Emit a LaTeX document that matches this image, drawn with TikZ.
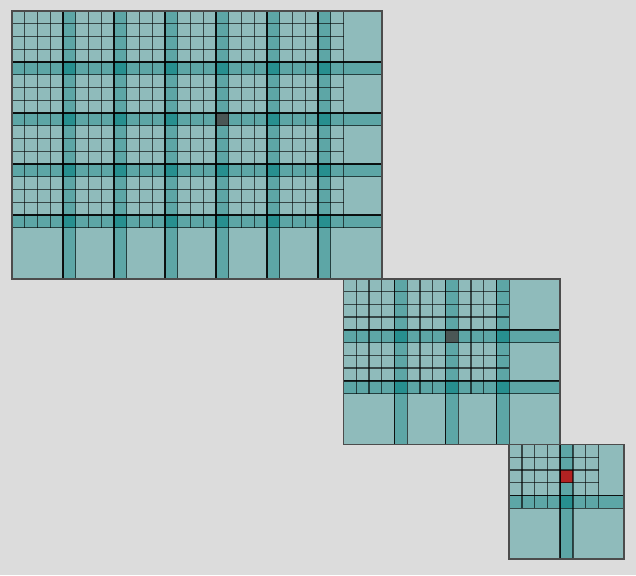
\documentclass[tikz,border=0pt]{standalone}
\usepackage{xcolor}

\definecolor{bggray}{RGB}{220,220,220}
\definecolor{markgray}{RGB}{74,86,85}
\definecolor{markred}{RGB}{178,34,34}

\tikzset{
  tilefill/.style={fill=teal, fill opacity=0.35},
  cellline/.style={draw=black, draw opacity=0.62, line width=1.25pt},
  tileline/.style={draw=black, draw opacity=0.75, line width=1.4pt},
  frameline/.style={draw=black!70, line width=1.5pt},
}

% one level: offset #1,#2; #3 x #4 cells; fine part #5 x #6; marked cell #7,#8 in colour #9
\newcommand{\gridlevel}[9]{%
  \begin{scope}[shift={(#1,#2)}]
    \pgfmathtruncatemacro{\lastcol}{#3-5}
    \pgfmathtruncatemacro{\lastrow}{#4-5}
    \pgfmathtruncatemacro{\ncols}{(#3-5)/4}
    \pgfmathtruncatemacro{\nrows}{(#4-5)/4}
    % overlapping tiles
    \foreach \i in {0,4,...,\lastcol}
      \foreach \j in {0,4,...,\lastrow}
        \fill[tilefill] (\i,\j) rectangle ++(5,5);
    % marked cell
    \fill[#9] (#7,#8) rectangle ++(1,1);
    % fine cells
    \foreach \x in {0,...,#5}
      \draw[cellline] (\x,0) -- (\x,#6);
    \foreach \y in {0,...,#6}
      \draw[cellline] (0,\y) -- (#5,\y);
    % strips through the coarse parts
    \foreach \k [evaluate=\k as \y using int(4*\k)] in {1,...,\nrows} {
      \draw[cellline] (#5,\y) -- (#3,\y);
      \draw[cellline] (#5,\y+1) -- (#3,\y+1);
    }
    \foreach \k [evaluate=\k as \x using int(4*\k)] in {1,...,\ncols} {
      \draw[cellline] (\x,#6) -- (\x,#4);
      \draw[cellline] (\x+1,#6) -- (\x+1,#4);
    }
    % tile borders
    \foreach \k [evaluate=\k as \x using int(4*\k)] in {1,...,\ncols}
      \draw[tileline] (\x,0) -- (\x,#4);
    \foreach \k [evaluate=\k as \y using int(4*\k)] in {1,...,\nrows}
      \draw[tileline] (0,\y) -- (#3,\y);
    \draw[frameline] (0,0) rectangle (#3,#4);
  \end{scope}}

\begin{document}
\begin{tikzpicture}[x=0.4cm, y=-0.4cm]
  \useasboundingbox[fill=bggray] (-0.941,-0.863) rectangle (48.941,44.235);

  % largest level
  \gridlevel{0}{0}{29}{21}{26}{17}{16}{8}{markgray}
  % middle level
  \gridlevel{26}{21}{17}{13}{13}{9}{8}{4}{markgray}
  % smallest level
  \gridlevel{39}{34}{9}{9}{7}{5}{4}{2}{markred}
\end{tikzpicture}
\end{document}
